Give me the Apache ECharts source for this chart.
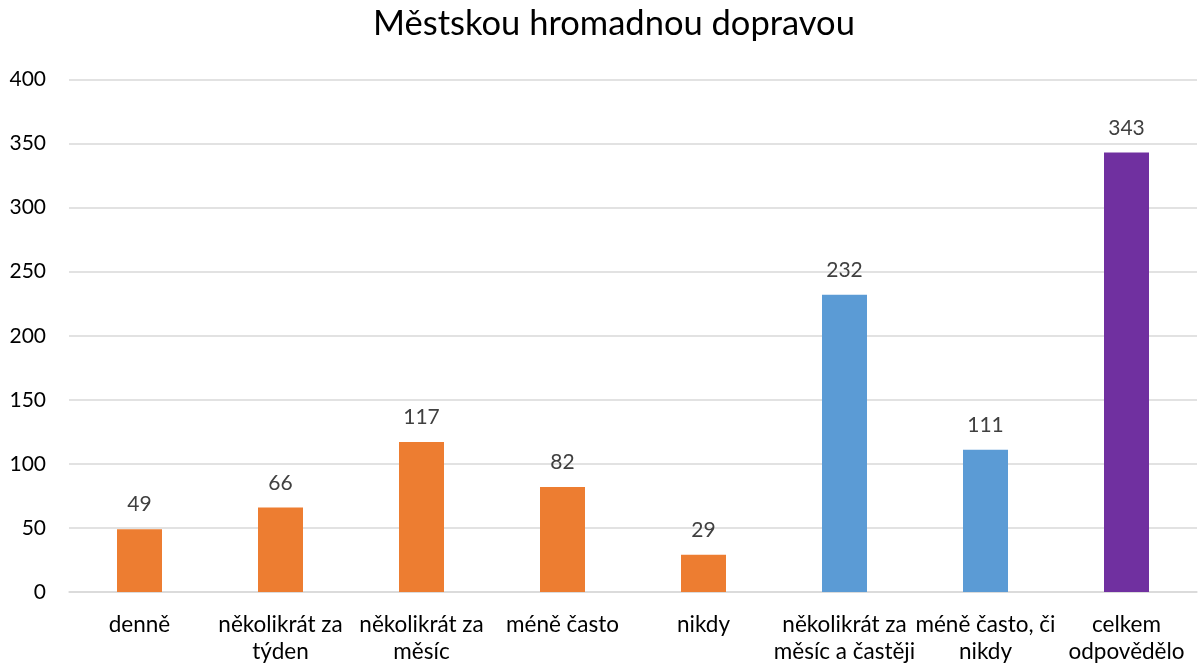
<!DOCTYPE html>
<html>
<head>
<meta charset="utf-8">
<script src="https://cdn.jsdelivr.net/npm/echarts@6/dist/echarts.min.js"></script>
<style>
  html, body { margin: 0; padding: 0; background: #fff; }
  #chart { width: 1198px; height: 665px; }
</style>
</head>
<body>
<div id="chart"></div>
<script>
const categories = [
  'denně',
  'několikrát za\ntýden',
  'několikrát za\nměsíc',
  'méně často',
  'nikdy',
  'několikrát za\nměsíc a častěji',
  'méně často, či\nnikdy',
  'celkem\nodpovědělo'
]
const values = [49, 66, 117, 82, 29, 232, 111, 343]
const barColors = ['#ED7D31', '#ED7D31', '#ED7D31', '#ED7D31', '#ED7D31', '#5B9BD5', '#5B9BD5', '#7030A0']
const yTicks = { min : 0, max : 400, interval : 50 }

const font = 'Lato, "Liberation Sans", sans-serif'

const chart = echarts.init( document.getElementById( 'chart' ) )

chart.setOption( {
  backgroundColor : '#fff',
  animation : false,
  title : {
    text : 'Městskou hromadnou dopravou',
    left : 368,
    top : 1,
    textStyle : {
      fontFamily : font,
      fontSize : 34.5,
      fontWeight : 'normal',
      color : '#000'
    }
  },
  grid : {
    left : 69,
    right : 1,
    top : 79.5,
    bottom : 70,
    containLabel : false
  },
  xAxis : {
    type : 'category',
    data : categories,
    axisTick : { show : false },
    axisLine : { lineStyle : { color : '#d9d9d9', width : 1.5 } },
    axisLabel : {
      interval : 0,
      margin : 19,
      fontFamily : font,
      fontSize : 22.5,
      lineHeight : 27,
      color : '#000'
    }
  },
  yAxis : {
    type : 'value',
    min : yTicks.min,
    max : yTicks.max,
    interval : yTicks.interval,
    axisLine : { show : false },
    axisTick : { show : false },
    axisLabel : {
      margin : 23,
      fontFamily : font,
      fontSize : 21,
      color : '#000'
    },
    splitLine : { lineStyle : { color : '#d9d9d9', width : 1.5 } }
  },
  series : [
    {
      type : 'bar',
      barWidth : 45,
      data : values.map( ( v, i ) => ( { value : v, itemStyle : { color : barColors[i] } } ) ),
      label : {
        show : true,
        position : 'top',
        distance : 14,
        fontFamily : font,
        fontSize : 21,
        color : '#404040'
      }
    }
  ]
} )
</script>
</body>
</html>
